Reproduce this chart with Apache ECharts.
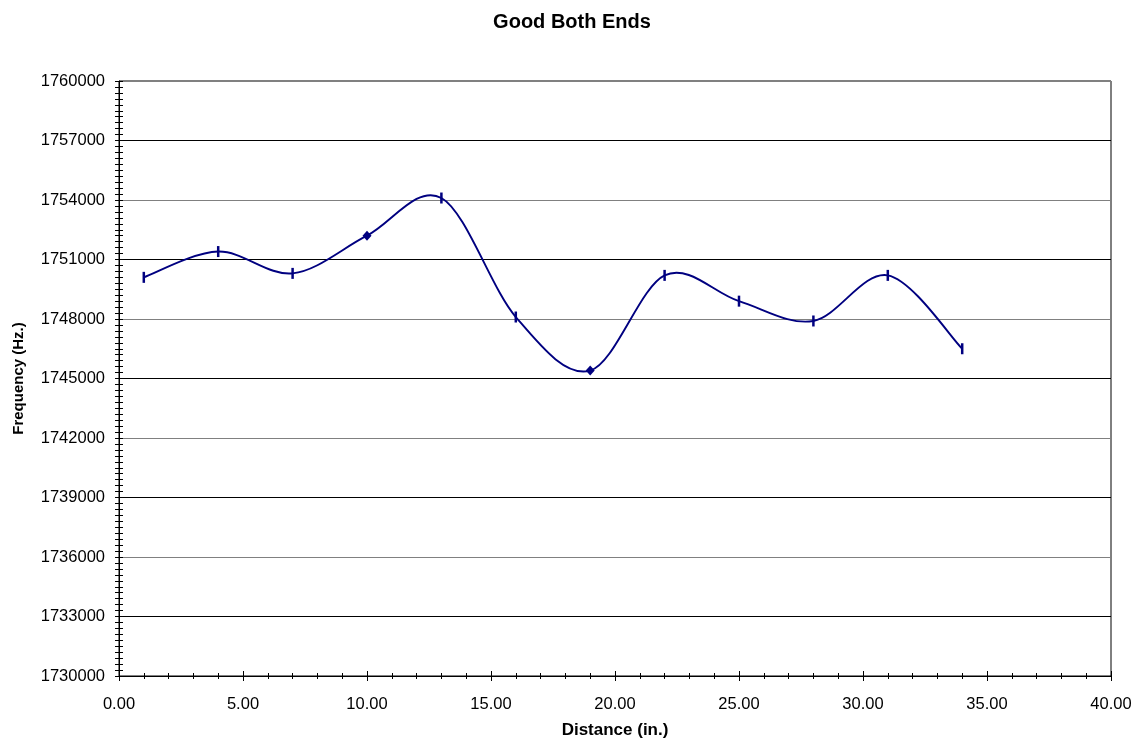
<!DOCTYPE html>
<html>
<head>
<meta charset="utf-8">
<title>Good Both Ends</title>
<script src="https://cdn.jsdelivr.net/npm/echarts@6/dist/echarts.min.js"></script>
<style>
  html, body { margin: 0; padding: 0; background: #fff; }
  #chart { width: 1144px; height: 743px; }
</style>
</head>
<body>
<div id="chart"></div>
<script>
// Measured positions along the string (inches)
const distance = [1, 4, 7, 10, 13, 16, 19, 22, 25, 28, 31, 34];
// Measured frequency at each position (Hz)
const frequency = [1750100, 1751400, 1750300, 1752200, 1754100, 1748100,
                   1745400, 1750200, 1748900, 1747900, 1750200, 1746500];
// Marker style used at each point
const markerKind = ['dash', 'dash', 'dash', 'diamond', 'dash', 'dash',
                    'diamond', 'dash', 'dash', 'dash', 'dash', 'dash'];

const FONT = '"Liberation Sans", Arial, sans-serif';
const NAVY = '#000080';

const pairs = distance.map((d, i) => [d, frequency[i]]);

const points = pairs.map((p, i) => ({
  value: p,
  symbol: markerKind[i] === 'diamond' ? 'diamond' : 'rect',
  symbolSize: markerKind[i] === 'diamond' ? [9, 10] : [2.5, 11]
}));

// Smoothed connecting curve: one cubic Bezier per segment, control points
// taken from the neighbouring measurements (Catmull-Rom style).
function renderSegment(params, api) {
  const i = params.dataIndex;
  const n = pairs.length;
  if (i >= n - 1) return null;
  const c = k => api.coord(pairs[Math.max(0, Math.min(n - 1, k))]);
  const p0 = c(i - 1), p1 = c(i), p2 = c(i + 1), p3 = c(i + 2);
  const t = 1 / 6;
  return {
    type: 'bezierCurve',
    shape: {
      x1: p1[0], y1: p1[1],
      cpx1: p1[0] + (p2[0] - p0[0]) * t, cpy1: p1[1] + (p2[1] - p0[1]) * t,
      cpx2: p2[0] - (p3[0] - p1[0]) * t, cpy2: p2[1] - (p3[1] - p1[1]) * t,
      x2: p2[0], y2: p2[1]
    },
    style: { stroke: NAVY, lineWidth: 1.9, fill: null }
  };
}

const yCommon = {
  type: 'value',
  min: 1730000,
  max: 1760000,
  interval: 3000,
  position: 'left',
  axisLine: { show: true, onZero: false, lineStyle: { color: '#000', width: 1 } }
};

const chart = echarts.init(document.getElementById('chart'), null, { renderer: 'canvas' });
chart.setOption({
  backgroundColor: '#fff',
  animation: false,
  title: {
    text: 'Good Both Ends',
    left: 'center',
    top: 7,
    textStyle: { fontFamily: FONT, fontSize: 20, fontWeight: 'bold', color: '#000' }
  },
  grid: {
    left: 119, top: 81, right: 33, bottom: 67,
    outerBoundsMode: 'none',
    containLabel: false,
    show: true, borderColor: '#000', borderWidth: 1, backgroundColor: 'transparent'
  },
  xAxis: [{
    type: 'value',
    min: 0, max: 40, interval: 5,
    name: 'Distance (in.)',
    nameLocation: 'middle',
    nameGap: 46,
    nameTextStyle: { fontFamily: FONT, fontSize: 17, fontWeight: 'bold', color: '#000' },
    axisLine: { show: true, onZero: false, lineStyle: { color: '#000', width: 1 } },
    axisTick: { show: true, inside: false, length: 5, lineStyle: { color: '#000' } },
    minorTick: { show: true, splitNumber: 5, length: 3, lineStyle: { color: '#000' } },
    axisLabel: {
      fontFamily: FONT, fontSize: 16.5, color: '#000', margin: 20,
      formatter: v => v.toFixed(2)
    },
    splitLine: { show: false }
  }, {
    // inner half of the crossing tick marks
    type: 'value',
    min: 0, max: 40, interval: 5,
    position: 'bottom',
    axisLine: { show: false },
    axisTick: { show: true, inside: true, length: 5, lineStyle: { color: '#000' } },
    minorTick: { show: true, splitNumber: 5, length: 3, lineStyle: { color: '#000' } },
    axisLabel: { show: false },
    splitLine: { show: false }
  }],
  yAxis: [Object.assign({}, yCommon, {
    name: 'Frequency (Hz.)',
    nameLocation: 'middle',
    nameRotate: 90,
    nameGap: 93,
    nameTextStyle: { fontFamily: FONT, fontSize: 15, fontWeight: 'bold', color: '#000' },
    axisTick: { show: true, inside: false, length: 4, lineStyle: { color: '#000' } },
    minorTick: { show: true, splitNumber: 10, length: 4, lineStyle: { color: '#000' } },
    axisLabel: { fontFamily: FONT, fontSize: 16.5, color: '#000', margin: 14, formatter: v => String(v) },
    splitLine: { show: true, lineStyle: { color: ['#808080', '#000'], width: 1 } }
  }), Object.assign({}, yCommon, {
    // inner half of the crossing tick marks
    axisLine: { show: false },
    axisTick: { show: true, inside: true, length: 4, lineStyle: { color: '#000' } },
    minorTick: { show: true, splitNumber: 10, length: 4, lineStyle: { color: '#000' } },
    axisLabel: { show: false },
    splitLine: { show: false }
  })],
  series: [{
    type: 'custom',
    xAxisIndex: 0,
    yAxisIndex: 0,
    data: pairs,
    renderItem: renderSegment,
    encode: { x: 0, y: 1 },
    silent: true,
    z: 4
  }, {
    type: 'scatter',
    xAxisIndex: 0,
    yAxisIndex: 0,
    data: points,
    itemStyle: { color: NAVY, borderWidth: 0, opacity: 1 },
    z: 5
  }]
});
</script>
</body>
</html>
